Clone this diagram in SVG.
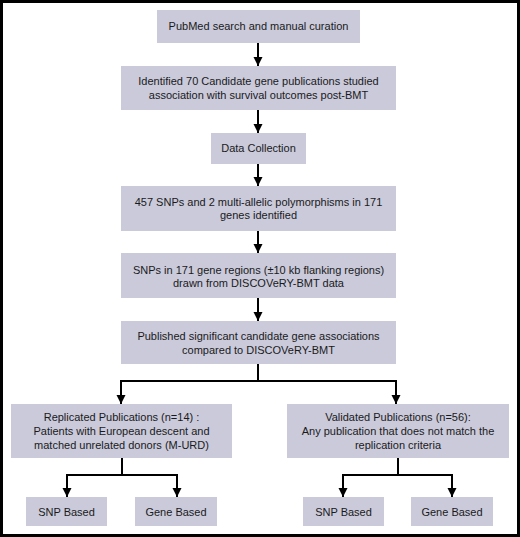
<svg xmlns="http://www.w3.org/2000/svg" width="520" height="537" viewBox="0 0 520 537">
<defs>
<style>
.box{fill:#cacadb;stroke:none}
text{font-family:"Liberation Sans",Arial,sans-serif;font-size:11px;fill:#1a1a1a;text-anchor:middle}
.ln{fill:none;stroke:#000;stroke-width:2}
</style>
<marker id="ah" viewBox="0 0 10 10" refX="10" refY="5" markerWidth="4.5" markerHeight="5" orient="auto" markerUnits="strokeWidth">
<path d="M0,0 L10,5 L0,10 z" fill="#000"/>
</marker>
</defs>
<rect x="0" y="0" width="520" height="537" fill="#fff"/>
<rect x="1.5" y="1.5" width="517" height="534" fill="none" stroke="#000" stroke-width="3"/>
<g id="connectors">
<path class="ln" d="M258,43 V66" marker-end="url(#ah)"/>
<path class="ln" d="M258,110 V133" marker-end="url(#ah)"/>
<path class="ln" d="M258,164 V186" marker-end="url(#ah)"/>
<path class="ln" d="M258,231 V253" marker-end="url(#ah)"/>
<path class="ln" d="M258,298 V321" marker-end="url(#ah)"/>
<path class="ln" d="M258,364 V381"/>
<path class="ln" d="M121,403 V381 H396 V403" />
<path class="ln" d="M121,394 V404" marker-end="url(#ah)"/>
<path class="ln" d="M396,394 V404" marker-end="url(#ah)"/>
<path class="ln" d="M122,458 V475"/>
<path class="ln" d="M67,496 V475 H177 V496"/>
<path class="ln" d="M67,487 V497" marker-end="url(#ah)"/>
<path class="ln" d="M177,487 V497" marker-end="url(#ah)"/>
<path class="ln" d="M398,458 V475"/>
<path class="ln" d="M343,496 V475 H452 V496"/>
<path class="ln" d="M343,487 V497" marker-end="url(#ah)"/>
<path class="ln" d="M452,487 V497" marker-end="url(#ah)"/>
</g>
<g id="n1"><rect class="box" x="157" y="10" width="203" height="33"/><text x="258.5" y="30">PubMed search and manual curation</text></g>
<g id="n2"><rect class="box" x="121" y="66" width="275" height="44"/><text x="258.5" y="85">Identified 70 Candidate gene publications studied</text><text x="258.5" y="99">association with survival outcomes post-BMT</text></g>
<g id="n3"><rect class="box" x="211" y="133" width="95" height="31"/><text x="258.5" y="152">Data Collection</text></g>
<g id="n4"><rect class="box" x="121" y="186" width="275" height="45"/><text x="258.5" y="206">457 SNPs and 2 multi-allelic polymorphisms in 171</text><text x="258.5" y="219">genes identified</text></g>
<g id="n5"><rect class="box" x="121" y="253" width="275" height="45"/><text x="258.5" y="274">SNPs in 171 gene regions (±10 kb flanking regions)</text><text x="258.5" y="287">drawn from DISCOVeRY-BMT data</text></g>
<g id="n6"><rect class="box" x="121" y="321" width="275" height="43"/><text x="258.5" y="340">Published significant candidate gene associations</text><text x="258.5" y="354">compared to DISCOVeRY-BMT</text></g>
<g id="n7"><rect class="box" x="11" y="404" width="221" height="54"/><text x="121.5" y="421">Replicated Publications (n=14) :</text><text x="121.5" y="435">Patients with European descent and</text><text x="121.5" y="449">matched unrelated donors (M-URD)</text></g>
<g id="n8"><rect class="box" x="287" y="404" width="222" height="54"/><text x="398" y="421">Validated Publications (n=56):</text><text x="398" y="435">Any publication that does not match the</text><text x="398" y="449">replication criteria</text></g>
<g id="n9"><rect class="box" x="26" y="497" width="81" height="29"/><text x="66.5" y="516">SNP Based</text></g>
<g id="n10"><rect class="box" x="135" y="497" width="82" height="29"/><text x="176" y="516">Gene Based</text></g>
<g id="n11"><rect class="box" x="303" y="497" width="81" height="29"/><text x="343.5" y="516">SNP Based</text></g>
<g id="n12"><rect class="box" x="411" y="497" width="82" height="29"/><text x="452" y="516">Gene Based</text></g>
</svg>
